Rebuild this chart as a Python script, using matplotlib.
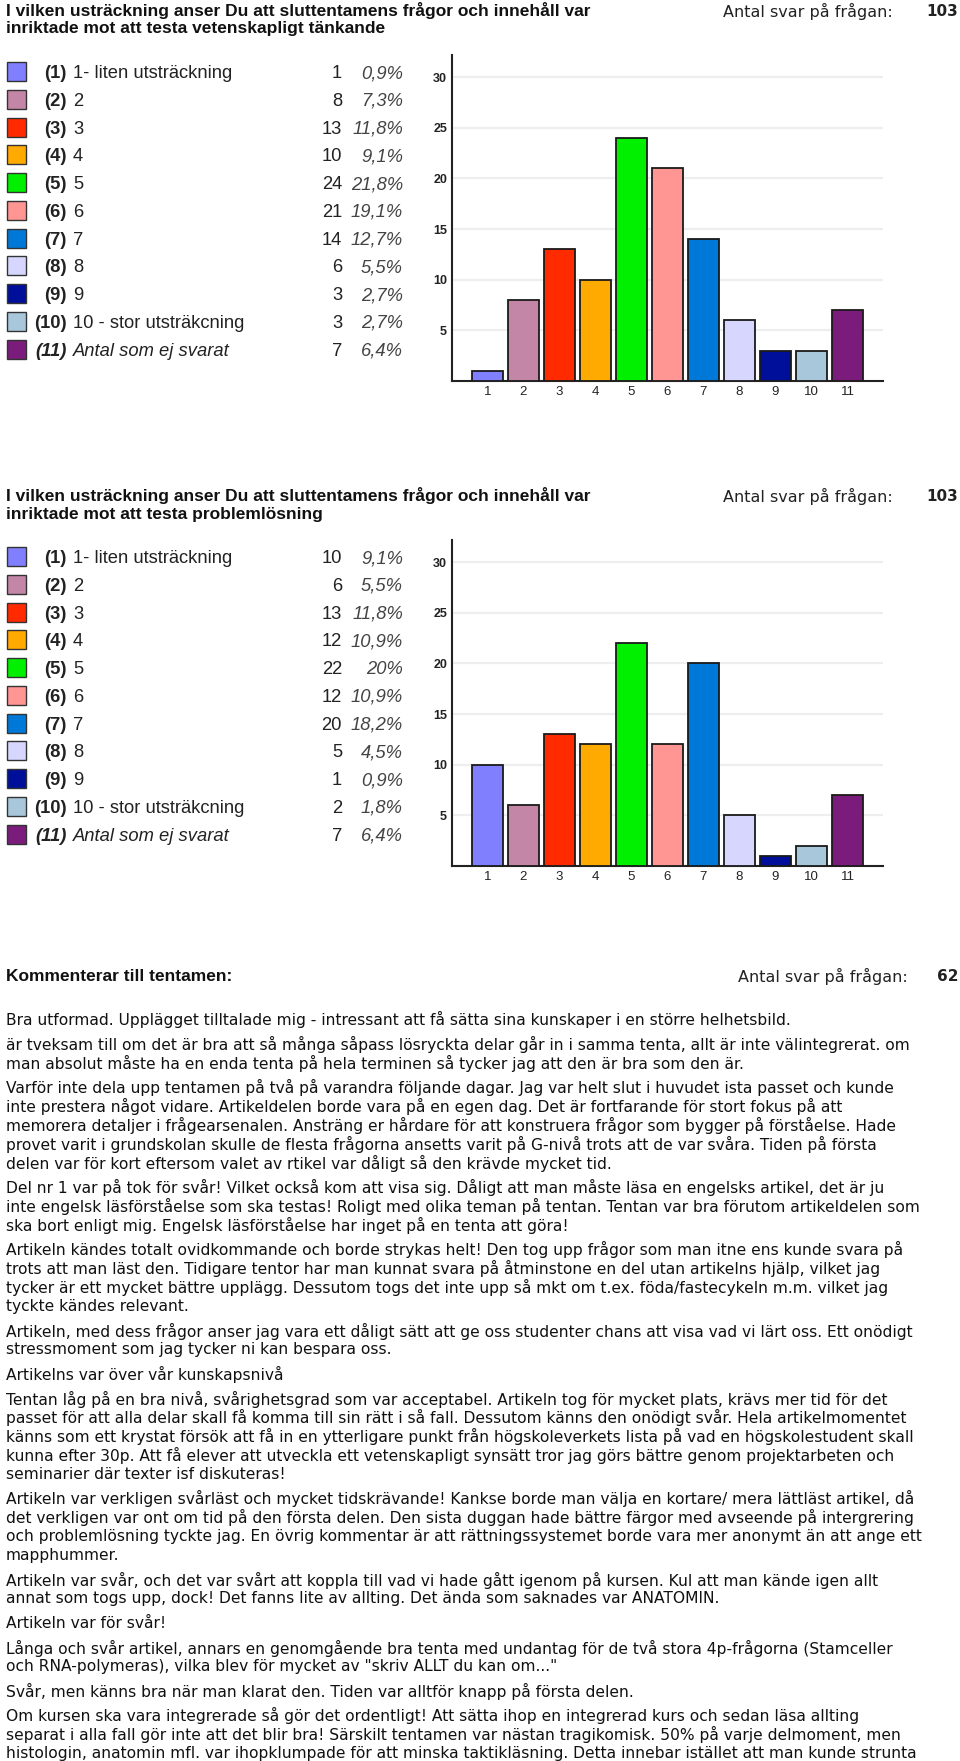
import matplotlib
matplotlib.use("Agg")
import matplotlib.pyplot as plt
from matplotlib.patches import Rectangle

W, H = 960, 1761

# ---- data ----
categories = ["1- liten utsträckning", "2", "3", "4", "5", "6", "7", "8", "9",
              "10 - stor utsträkcning", "Antal som ej svarat"]
tick_labels = ["1", "2", "3", "4", "5", "6", "7", "8", "9", "10", "11"]
bar_colors = ["#8080ff", "#c486a6", "#ff2a00", "#ffaa00", "#00f000", "#ff9693",
              "#0078d8", "#d6d6ff", "#000f99", "#a8c7da", "#7b1c7c"]

q1_title = ["I vilken usträckning anser Du att sluttentamens frågor och innehåll var",
            "inriktade mot att testa vetenskapligt tänkande"]
q1_counts = [1, 8, 13, 10, 24, 21, 14, 6, 3, 3, 7]
q1_pct = ["0,9%", "7,3%", "11,8%", "9,1%", "21,8%", "19,1%", "12,7%", "5,5%",
          "2,7%", "2,7%", "6,4%"]
q1_total = 103

q2_title = ["I vilken usträckning anser Du att sluttentamens frågor och innehåll var",
            "inriktade mot att testa problemlösning"]
q2_counts = [10, 6, 13, 12, 22, 12, 20, 5, 1, 2, 7]
q2_pct = ["9,1%", "5,5%", "11,8%", "10,9%", "20%", "10,9%", "18,2%", "4,5%",
          "0,9%", "1,8%", "6,4%"]
q2_total = 103

comments_title = "Kommenterar till tentamen:"
comments_total = 62
comments = [
    ["Bra utformad. Upplägget tilltalade mig - intressant att få sätta sina kunskaper i en större helhetsbild."],
    ["är tveksam till om det är bra att så många såpass lösryckta delar går in i samma tenta, allt är inte välintegrerat. om",
     "man absolut måste ha en enda tenta på hela terminen så tycker jag att den är bra som den är."],
    ["Varför inte dela upp tentamen på två på varandra följande dagar. Jag var helt slut i huvudet ista passet och kunde",
     "inte prestera något vidare. Artikeldelen borde vara på en egen dag. Det är fortfarande för stort fokus på att",
     "memorera detaljer i frågearsenalen. Ansträng er hårdare för att konstruera frågor som bygger på förståelse. Hade",
     "provet varit i grundskolan skulle de flesta frågorna ansetts varit på G-nivå trots att de var svåra. Tiden på första",
     "delen var för kort eftersom valet av rtikel var dåligt så den krävde mycket tid."],
    ["Del nr 1 var på tok för svår! Vilket också kom att visa sig. Dåligt att man måste läsa en engelsks artikel, det är ju",
     "inte engelsk läsförståelse som ska testas! Roligt med olika teman på tentan. Tentan var bra förutom artikeldelen som",
     "ska bort enligt mig. Engelsk läsförståelse har inget på en tenta att göra!"],
    ["Artikeln kändes totalt ovidkommande och borde strykas helt! Den tog upp frågor som man itne ens kunde svara på",
     "trots att man läst den. Tidigare tentor har man kunnat svara på åtminstone en del utan artikelns hjälp, vilket jag",
     "tycker är ett mycket bättre upplägg. Dessutom togs det inte upp så mkt om t.ex. föda/fastecykeln m.m. vilket jag",
     "tyckte kändes relevant."],
    ["Artikeln, med dess frågor anser jag vara ett dåligt sätt att ge oss studenter chans att visa vad vi lärt oss. Ett onödigt",
     "stressmoment som jag tycker ni kan bespara oss."],
    ["Artikelns var över vår kunskapsnivå"],
    ["Tentan låg på en bra nivå, svårighetsgrad som var acceptabel. Artikeln tog för mycket plats, krävs mer tid för det",
     "passet för att alla delar skall få komma till sin rätt i så fall. Dessutom känns den onödigt svår. Hela artikelmomentet",
     "känns som ett krystat försök att få in en ytterligare punkt från högskoleverkets lista på vad en högskolestudent skall",
     "kunna efter 30p. Att få elever att utveckla ett vetenskapligt synsätt tror jag görs bättre genom projektarbeten och",
     "seminarier där texter isf diskuteras!"],
    ["Artikeln var verkligen svårläst och mycket tidskrävande! Kankse borde man välja en kortare/ mera lättläst artikel, då",
     "det verkligen var ont om tid på den första delen. Den sista duggan hade bättre färgor med avseende på intergrering",
     "och problemlösning tyckte jag. En övrig kommentar är att rättningssystemet borde vara mer anonymt än att ange ett",
     "mapphummer."],
    ["Artikeln var svår, och det var svårt att koppla till vad vi hade gått igenom på kursen. Kul att man kände igen allt",
     "annat som togs upp, dock! Det fanns lite av allting. Det ända som saknades var ANATOMIN."],
    ["Artikeln var för svår!"],
    ["Långa och svår artikel, annars en genomgående bra tenta med undantag för de två stora 4p-frågorna (Stamceller",
     "och RNA-polymeras), vilka blev för mycket av \"skriv ALLT du kan om...\""],
    ["Svår, men känns bra när man klarat den. Tiden var alltför knapp på första delen."],
    ["Om kursen ska vara integrerade så gör det ordentligt! Att sätta ihop en integrerad kurs och sedan läsa allting",
     "separat i alla fall gör inte att det blir bra! Särskilt tentamen var nästan tragikomisk. 50% på varje delmoment, men",
     "histologin, anatomin mfl. var ihopklumpade för att minska taktikläsning. Detta innebar istället att man kunde strunta"],
]

SANS = ["Liberation Sans", "DejaVu Sans"]
NARROW = ["Liberation Sans Narrow", "Liberation Sans", "DejaVu Sans"]

fig = plt.figure(figsize=(W / 100, H / 100), dpi=100)
bg = fig.add_axes([0, 0, 1, 1])
bg.set_xlim(0, W)
bg.set_ylim(H, 0)
bg.axis("off")


def draw_question(off, title, counts, pct, total):
    bg.text(6, 9 + off, title[0], family=SANS, fontsize=12.5, fontweight="bold",
            va="center_baseline", color="#111111")
    bg.text(6, 27.5 + off, title[1], family=SANS, fontsize=12.5, fontweight="bold",
            va="center_baseline", color="#111111")
    bg.text(893, 10 + off, "Antal svar på frågan:", fontsize=11.5, ha="right",
            va="center_baseline", color="#222222")
    bg.text(958, 10 + off, str(total), fontsize=11, fontweight="bold", ha="right",
            va="center_baseline", color="#222222")

    # legend table
    for i, (lab, n, p) in enumerate(zip(categories, counts, pct)):
        y = 71.7 + off + i * 27.75
        last = i == len(categories) - 1
        style = "italic" if last else "normal"
        bg.add_patch(Rectangle((7, y - 9.5), 19, 19, facecolor=bar_colors[i],
                               edgecolor="#333333", lw=1.0))
        bg.text(66.7, y, "(%d)" % (i + 1), family=SANS, fontsize=13.2,
                fontweight="bold", fontstyle=style, ha="right",
                va="center_baseline", color="#222222")
        bg.text(73, y, lab, family=SANS, fontsize=13.2, fontstyle=style,
                va="center_baseline", color="#222222")
        bg.text(342, y, str(n), family=SANS, fontsize=13.2, ha="right",
                va="center_baseline", color="#222222")
        bg.text(403, y, p, family=SANS, fontsize=13.2, fontstyle="italic",
                ha="right", va="center_baseline", color="#444444")

    # bar chart
    ax = fig.add_axes([452 / W, 1 - (381 + off) / H, 431 / W, 326 / H])
    ax.set_facecolor("none")
    x = list(range(1, len(counts) + 1))
    ax.bar(x, counts, width=0.88, color=bar_colors, edgecolor="#1a1a1a",
           linewidth=1.3, zorder=3)
    ax.set_xlim(1 - 35.5 / 36, 1 - 35.5 / 36 + 431 / 36)
    ax.set_ylim(0, 326 / 10.13)
    ax.set_yticks([5, 10, 15, 20, 25, 30])
    ax.set_xticks(x, tick_labels)
    ax.yaxis.grid(True, color="#eeeeee", lw=1.6, zorder=0)
    ax.set_axisbelow(True)
    ax.tick_params(length=0, pad=3.5, colors="#222222")
    for lab in ax.get_yticklabels():
        lab.set_family(NARROW)
        lab.set_fontweight("bold")
        lab.set_fontsize(9)
    for lab in ax.get_xticklabels():
        lab.set_family(NARROW)
        lab.set_fontsize(9.5)
    for s in ["top", "right"]:
        ax.spines[s].set_visible(False)
    for s in ["left", "bottom"]:
        ax.spines[s].set_color("#222222")
        ax.spines[s].set_linewidth(1.5)


draw_question(0, q1_title, q1_counts, q1_pct, q1_total)
draw_question(485, q2_title, q2_counts, q2_pct, q2_total)

# comments section
bg.text(6, 975, comments_title, family=SANS, fontsize=12.5, fontweight="bold",
        va="center_baseline", color="#111111")
bg.text(908, 975, "Antal svar på frågan:", fontsize=11.5, ha="right",
        va="center_baseline", color="#222222")
bg.text(958, 975, str(comments_total), fontsize=11, fontweight="bold", ha="right",
        va="center_baseline", color="#222222")

y = 1018.3
for para in comments:
    for line in para:
        bg.text(6, y, line, fontsize=11.2, va="center_baseline", color="#111111")
        y += 18.85
    y += 5.7

fig.savefig("out.png", dpi=100)
